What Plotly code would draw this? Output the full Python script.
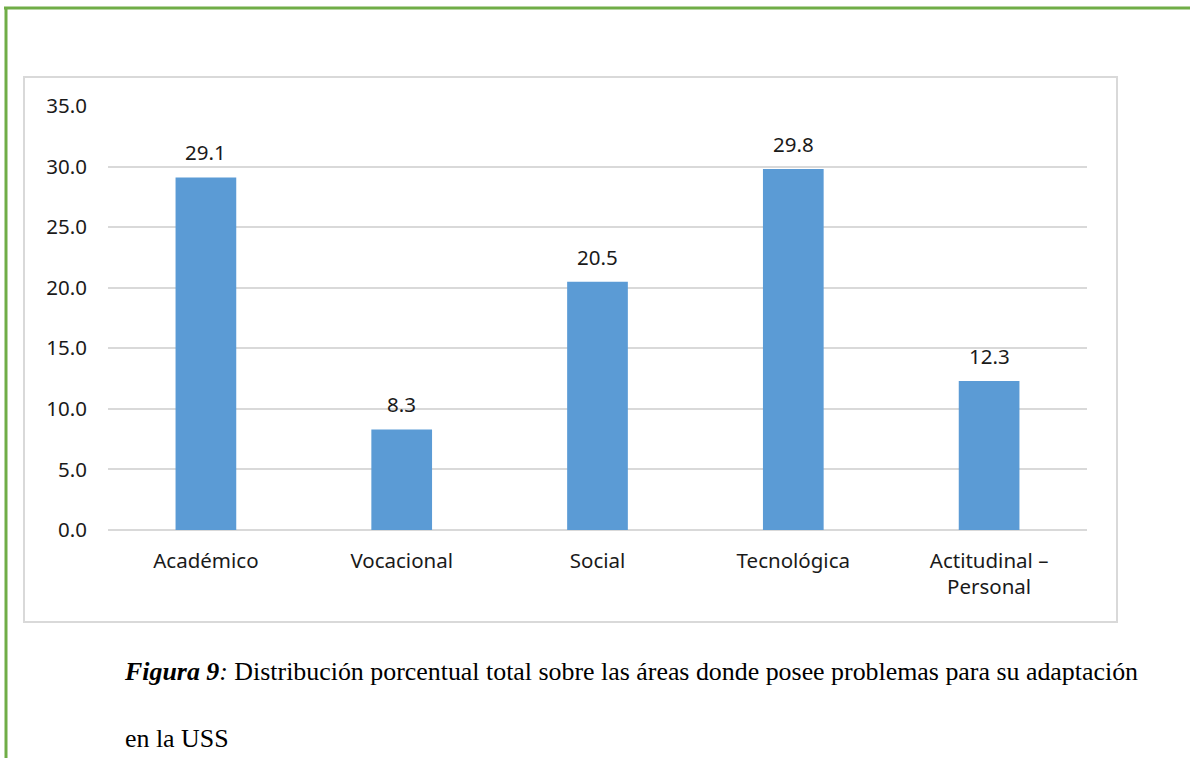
import plotly.graph_objects as go

categories = ["Académico", "Vocacional", "Social", "Tecnológica", "Actitudinal –<br>Personal"]
values = [29.1, 8.3, 20.5, 29.8, 12.3]
y_ticks = [0, 5, 10, 15, 20, 25, 30, 35]

W, H = 1190, 758
L, R, T, B = 108, 1087, 106, 530  # plot area in pixels


def px(x):
    return (x - L) / (R - L)


def py(y):
    return (B - y) / (B - T)


FONT = "Noto Sans, DejaVu Sans, sans-serif"

fig = go.Figure()
fig.add_trace(go.Bar(
    x=categories, y=values,
    marker=dict(color="#5B9BD5", line=dict(width=0)),
    hoverinfo="x+y",
))

annotations = []
for c, v in zip(categories, values):
    annotations.append(dict(
        x=c, y=v, xref="x", yref="y", text=f"{v:.1f}", showarrow=False,
        yshift=25, font=dict(family=FONT, size=20.5, color="#1a1a1a"),
    ))

cap_font = dict(family="Liberation Serif, Times New Roman, serif", size=25.9, color="#000000")
annotations.append(dict(
    x=px(122), y=py(671), xref="paper", yref="paper", xanchor="left", yanchor="middle",
    text="<b><i>Figura 9</i></b><i>:</i> Distribución porcentual total sobre las áreas donde posee problemas para su adaptación",
    showarrow=False, font=cap_font,
))
annotations.append(dict(
    x=px(123), y=py(738), xref="paper", yref="paper", xanchor="left", yanchor="middle",
    text="en la USS", showarrow=False, font=cap_font,
))

shapes = [
    # chart box
    dict(type="rect", xref="paper", yref="paper", x0=px(24), x1=px(1117), y0=py(622), y1=py(77),
         line=dict(color="#D9D9D9", width=2), fillcolor="rgba(0,0,0,0)", layer="below"),
    # green page border lines
    dict(type="line", xref="paper", yref="paper", x0=px(4), x1=px(1200), y0=py(8), y1=py(8),
         line=dict(color="#70AD47", width=3)),
    dict(type="line", xref="paper", yref="paper", x0=px(6), x1=px(6), y0=py(7), y1=py(770),
         line=dict(color="#70AD47", width=3)),
]

fig.update_layout(
    width=W, height=H,
    margin=dict(l=L, r=W - R, t=T, b=H - B, autoexpand=False),
    paper_bgcolor="white", plot_bgcolor="white",
    bargap=0.69,
    showlegend=False,
    annotations=annotations,
    shapes=shapes,
    font=dict(family=FONT, size=20.5, color="#1a1a1a"),
)
fig.update_yaxes(
    range=[0, 35], tickvals=y_ticks, tickformat=".1f",
    showgrid=True, gridcolor="#D9D9D9", gridwidth=1.5,
    zeroline=True, zerolinecolor="#D9D9D9", zerolinewidth=2,
    showline=False, ticks="", ticklabelstandoff=20,
    tickfont=dict(size=20.5),
)
fig.update_xaxes(
    showgrid=False, showline=False, ticks="", ticklabelstandoff=16,
    tickfont=dict(size=20.5),
)

fig.write_html(
    "out.html",
    config={"displayModeBar": False},
    post_script="document.body.style.margin='0';document.body.style.overflow='hidden';",
)
